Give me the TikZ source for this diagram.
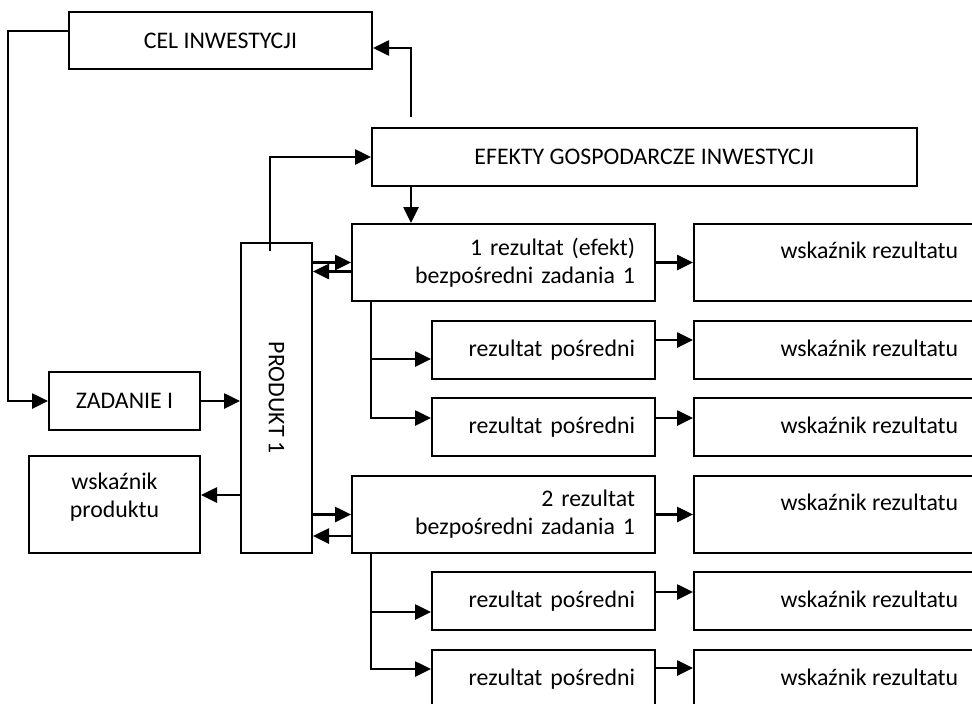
\documentclass[tikz,border=0pt]{standalone}
\usepackage{fontspec}
\setmainfont{Carlito}
\usetikzlibrary{arrows.meta,calc}
\begin{document}
\begin{tikzpicture}[x=1pt,y=-1pt,
  box/.style={draw,line width=2pt,inner sep=0pt},
  rbox/.style={box,align=right},
  conn/.style={line width=2.6pt},
  arr/.style={conn,-{Triangle[length=16pt,width=15pt]}},
  font=\fontsize{23.8}{28}\selectfont]
\clip (0,0) rectangle (972,704);
% boxes
\node[box,minimum width=303pt,minimum height=57pt] (cel) at (220.5,40.5) {CEL INWESTYCJI};
\node[box,minimum width=545pt,minimum height=58pt] (efekty) at (644.5,157) {EFEKTY GOSPODARCZE INWESTYCJI};
\node[rbox,text width=263pt,minimum width=303pt,minimum height=77pt] (r1) at (503.5,262.5) {1 rezultat (efekt)\\bezpośredni zadania 1};
\node[rbox,text width=183pt,minimum width=223pt,minimum height=58pt] (p1) at (543.5,350) {rezultat pośredni};
\node[rbox,text width=183pt,minimum width=223pt,minimum height=58pt] (p2) at (543.5,427) {rezultat pośredni};
\node[rbox,text width=263pt,minimum width=303pt,minimum height=77pt] (r2) at (503.5,514.5) {2 rezultat\\bezpośredni zadania 1};
\node[rbox,text width=183pt,minimum width=223pt,minimum height=58pt] (p3) at (543.5,601) {rezultat pośredni};
\node[rbox,text width=183pt,minimum width=223pt,minimum height=58pt] (p4) at (543.5,679) {rezultat pośredni};
\node[box,minimum width=306pt,minimum height=77pt] (w1) at (847,262.5) {};
\node[box,minimum width=306pt,minimum height=58pt] (w2) at (847,350) {};
\node[box,minimum width=306pt,minimum height=58pt] (w3) at (847,427) {};
\node[box,minimum width=306pt,minimum height=77pt] (w4) at (847,514.5) {};
\node[box,minimum width=306pt,minimum height=58pt] (w5) at (847,601) {};
\node[box,minimum width=306pt,minimum height=58pt] (w6) at (847,679) {};
\node[anchor=west] (w1t) at ($(w1.west)+(84,-12.5)$) {wskaźnik rezultatu};
\node[anchor=west] (w2t) at ($(w2.west)+(84,-2)$) {wskaźnik rezultatu};
\node[anchor=west] (w3t) at ($(w3.west)+(84,-2)$) {wskaźnik rezultatu};
\node[anchor=west] (w4t) at ($(w4.west)+(84,-12.5)$) {wskaźnik rezultatu};
\node[anchor=west] (w5t) at ($(w5.west)+(84,-2)$) {wskaźnik rezultatu};
\node[anchor=west] (w6t) at ($(w6.west)+(84,-2)$) {wskaźnik rezultatu};
\node[box,minimum width=71pt,minimum height=310pt] (produkt) at (276.5,398) {};
\node[rotate=-90] (produktt) at (produkt.center) {PRODUKT 1};
\node[box,minimum width=151pt,minimum height=58pt] (zadanie) at (124.5,401) {ZADANIE I};
\node[box,minimum width=171pt,minimum height=97pt] (wprod) at (114.5,504.5) {};
\node[align=center] (wprodt) at ($(wprod.center)+(0,-7)$) {wskaźnik\\produktu};
% connectors
\draw[arr] ([yshift=9.5pt]cel.west) -- ++(-60,0) |- (zadanie.west);
\draw[arr] ($(efekty.north west)+(40,-10)$) |- ([yshift=-7.5pt]cel.east);
\draw[arr] ($(produkt.north west)+(30,9)$) |- (efekty.west);
\draw[arr] ($(efekty.south west)+(40,0)$) -- ($(r1.north west)+(60,0)$);
\draw[arr] (zadanie.east) -- (zadanie.east -| produkt.west);
\coordinate (wpin) at ([yshift=9.5pt]wprod.east);
\draw[arr] (wpin -| produkt.west) -- (wpin);
% produkt <-> rezultaty
\draw[arr] (r1.west -| produkt.east) -- (r1.west);
\coordinate (r1b) at ([yshift=-9pt]r1.west);
\draw[arr] (r1b) -- (r1b -| produkt.east);
\draw[arr] (r2.west -| produkt.east) -- (r2.west);
\coordinate (r2b) at ([yshift=-21.5pt]r2.west);
\draw[arr] (r2b) -- (r2b -| produkt.east);
% branches
\coordinate (b1) at ($(r1.south west)+(20,0)$);
\coordinate (p1in) at ([yshift=-9pt]p1.west);
\draw[arr] (b1) |- ([yshift=9pt]p2.west);
\draw[arr] (p1in -| b1) -- (p1in);
\coordinate (b2) at ($(r2.south west)+(20,0)$);
\coordinate (p3in) at ([yshift=-11pt]p3.west);
\draw[arr] (b2) |- ([yshift=10pt]p4.west);
\draw[arr] (p3in -| b2) -- (p3in);
% to indicators
\draw[arr] (r1.east) -- (r1.east -| w1.west);
\coordinate (p1o) at ([yshift=10pt]p1.east);
\draw[arr] (p1o) -- (p1o -| w2.west);
\coordinate (p2o) at ([yshift=9pt]p2.east);
\draw[arr] (p2o) -- (p2o -| w3.west);
\draw[arr] (r2.east) -- (r2.east -| w4.west);
\coordinate (p3o) at ([yshift=9pt]p3.east);
\draw[arr] (p3o) -- (p3o -| w5.west);
\coordinate (p4o) at ([yshift=11pt]p4.east);
\draw[arr] (p4o) -- (p4o -| w6.west);
\end{tikzpicture}
\end{document}
